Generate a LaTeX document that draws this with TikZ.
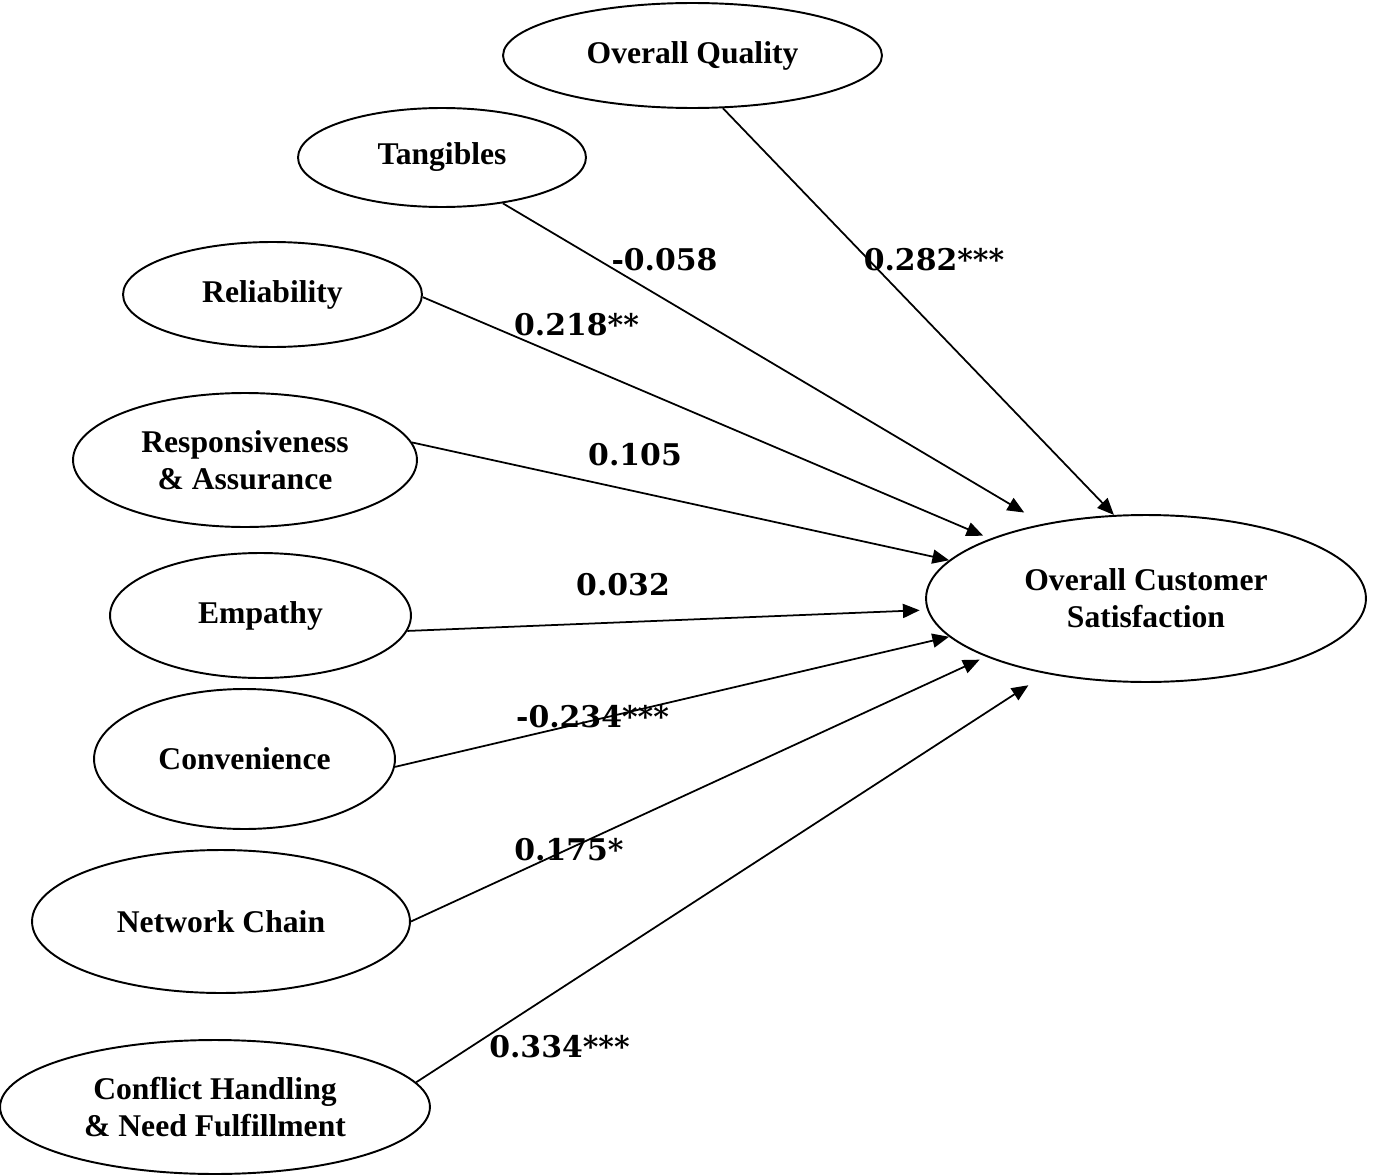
\documentclass[tikz,border=0pt]{standalone}
\usepackage{fontspec}
\setmainfont{Liberation Serif}
\newfontfamily\coeffont{DejaVu Serif}
\usetikzlibrary{arrows.meta, shapes.geometric}

\begin{document}
\begin{tikzpicture}[x=0.02cm, y=-0.02cm]
		\tikzstyle{Factor} = [ellipse, draw=black, line width=1.1pt, inner sep=0pt, align=center, font=\fontsize{18}{21}\selectfont\bfseries]
		\tikzstyle{arrow} = [line width=1pt, -{Triangle[length=9.5pt, width=8pt]}]
		\tikzstyle{Coef} = [inner sep=0pt, font=\coeffont\fontsize{17}{20}\selectfont\bfseries]
		
		\useasboundingbox (0,0) rectangle (1373,1176);
		
		% factors
		\node (oq) [Factor, minimum width=7.58cm, minimum height=2.1cm] at (692.5,55.5) {Overall Quality};
		\node (tang) [Factor, minimum width=5.76cm, minimum height=1.98cm] at (442,157.5) {Tangibles};
		\node (rel) [Factor, minimum width=5.98cm, minimum height=2.1cm] at (272.5,294.5) {Reliability};
		\node (resp) [Factor, minimum width=6.88cm, minimum height=2.68cm] at (245,460) {Responsiveness\\\& Assurance};
		\node (emp) [Factor, minimum width=6.02cm, minimum height=2.5cm] at (260.5,615.5) {Empathy};
		\node (conv) [Factor, minimum width=6.02cm, minimum height=2.8cm] at (244.5,759) {Convenience};
		\node (net) [Factor, minimum width=7.56cm, minimum height=2.86cm] at (221,921.5) {Network Chain};
		\node (conf) [Factor, minimum width=8.6cm, minimum height=2.68cm] at (215,1107) {Conflict Handling\\\& Need Fulfillment};
		
		\node (ocs) [Factor, minimum width=8.8cm, minimum height=3.34cm] at (1146,598.5) {Overall Customer\\Satisfaction};
		
		% paths
		\draw [arrow] (oq.-60) -- (ocs.111);
		\draw [arrow, shorten >=0.44cm] (tang.-37) -- (ocs.144);
		\draw [arrow, shorten >=0.15cm] (rel.-1.5) -- (ocs.159.6);
		\draw [arrow] (resp.6.8) -- (ocs.169.3);
		\draw [arrow, shorten >=0.15cm] (emp.-6.7) -- (ocs.183.2);
		\draw [arrow] (conv.-3) -- (ocs.191.1);
		\draw [arrow, shorten >=0.14cm] (net.east) -- (ocs.200.5);
		\draw [arrow, shorten >=0.42cm] (conf.7.1) -- (ocs.217.9);
		
		% coefficients
		\node (coq) [Coef] at (934,260) {0.282***};
		\node (ctang) [Coef] at (664.5,260) {-0.058};
		\node (crel) [Coef] at (576.5,325) {0.218**};
		\node (cresp) [Coef] at (635,455) {0.105};
		\node (cemp) [Coef] at (623,585) {0.032};
		\node (cconv) [Coef] at (592.5,717) {-0.234***};
		\node (cnet) [Coef] at (569,850) {0.175*};
		\node (cconf) [Coef] at (559.5,1047) {0.334***};
\end{tikzpicture}
\end{document}
